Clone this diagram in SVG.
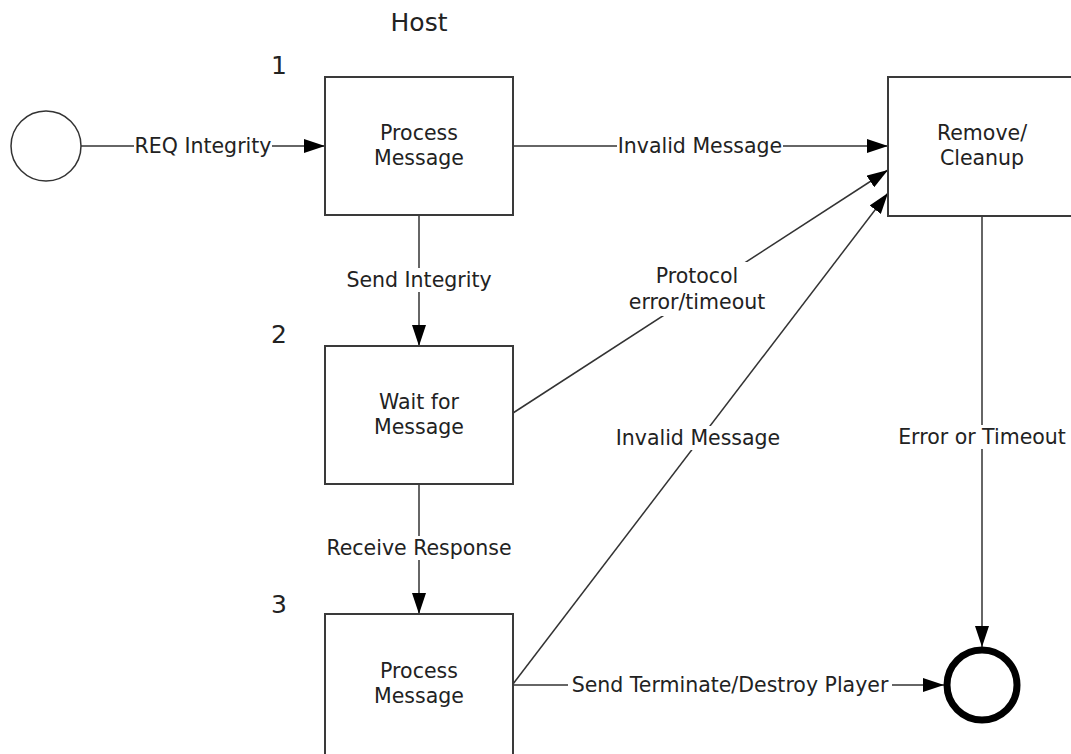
<svg xmlns="http://www.w3.org/2000/svg" width="1071" height="754" viewBox="0 0 1071 754">
<defs>
<marker id="arr" viewBox="0 0 21 14" refX="21" refY="7" markerWidth="21" markerHeight="14" markerUnits="userSpaceOnUse" orient="auto">
<path d="M0,0 L21,7 L0,14 Z" fill="#000"/>
</marker>
<style>
text{font-family:"DejaVu Sans","Liberation Sans",sans-serif;font-size:20.5px;fill:#222;text-anchor:middle;dominant-baseline:central}
.big{font-size:25px}
.box{fill:#fff;stroke:#3a3a3a;stroke-width:2}
.ln{fill:none;stroke:#333;stroke-width:1.5;marker-end:url(#arr)}
.bg{fill:#fff}
</style>
</defs>
<rect width="1071" height="754" fill="#fff"/>
<text class="big" x="419" y="22">Host</text>
<text class="big" x="279" y="65">1</text>
<text class="big" x="279" y="334">2</text>
<text class="big" x="279" y="604">3</text>
<g id="connectors">
<line class="ln" x1="81" y1="146" x2="325" y2="146"/>
<line class="ln" x1="513" y1="146" x2="888" y2="146"/>
<line class="ln" x1="419" y1="215" x2="419" y2="346"/>
<line class="ln" x1="513" y1="413" x2="888" y2="170"/>
<line class="ln" x1="513" y1="684" x2="888" y2="193"/>
<line class="ln" x1="419" y1="484" x2="419" y2="614"/>
<line class="ln" x1="513" y1="685" x2="944" y2="685"/>
<line class="ln" x1="982" y1="215" x2="982" y2="647"/>
<rect class="bg" x="134" y="134" width="138" height="24"/>
<text x="203" y="146">REQ Integrity</text>
<rect class="bg" x="617" y="134" width="166" height="24"/>
<text x="700" y="146">Invalid Message</text>
<rect class="bg" x="346" y="268" width="146" height="24"/>
<text x="419" y="280">Send Integrity</text>
<rect class="bg" x="628" y="262" width="138" height="54"/>
<text x="697" y="276">Protocol</text>
<text x="697" y="302">error/timeout</text>
<rect class="bg" x="615" y="426" width="166" height="24"/>
<text x="698" y="438">Invalid Message</text>
<rect class="bg" x="326" y="536" width="186" height="24"/>
<text x="419" y="548">Receive Response</text>
<rect class="bg" x="568" y="673" width="324" height="24"/>
<text x="730" y="685">Send Terminate/Destroy Player</text>
<rect class="bg" x="897" y="425" width="170" height="24"/>
<text x="982" y="437">Error or Timeout</text>
</g>
<g id="start"><circle cx="46" cy="146" r="35" fill="#fff" stroke="#333" stroke-width="1.5"/></g>
<g id="n1"><rect class="box" x="325" y="77" width="188" height="138"/><text x="419" y="133">Process</text><text x="419" y="158">Message</text></g>
<g id="cleanup"><rect class="box" x="888" y="77" width="190" height="139"/><text x="982" y="133">Remove/</text><text x="982" y="158">Cleanup</text></g>
<g id="n2"><rect class="box" x="325" y="346" width="188" height="138"/><text x="419" y="402">Wait for</text><text x="419" y="427">Message</text></g>
<g id="n3"><rect class="box" x="325" y="614" width="188" height="145"/><text x="419" y="671">Process</text><text x="419" y="696">Message</text></g>
<g id="end"><circle cx="982" cy="685" r="35" fill="#fff" stroke="#000" stroke-width="7"/></g>
</svg>
